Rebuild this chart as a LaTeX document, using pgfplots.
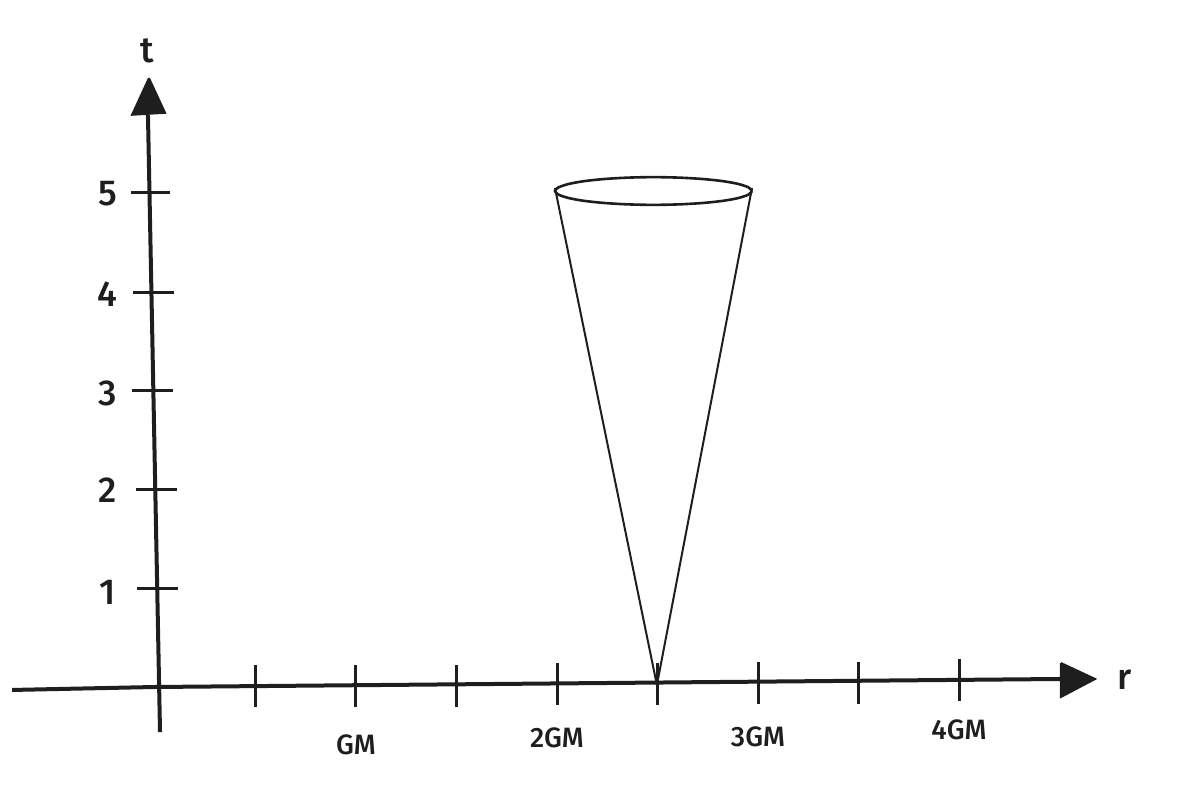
\documentclass[border=0pt]{standalone}
\usepackage{pgfplots}
\pgfplotsset{compat=1.18}
\usepackage{fontspec}
\setmainfont{Fira Sans}[BoldFont={Fira Sans Medium}]
\definecolor{ink}{HTML}{1E1E1E}
\begin{document}
\begin{tikzpicture}
\begin{axis}[scale only axis, width=593.5pt, height=392.5pt,
  xmin=-0.7711, xmax=5.1343, ymin=-0.9899, ymax=6.9394,
  hide axis, clip=false]
\path (rel axis cs:0,0) rectangle (rel axis cs:1,1);
% axes
\addplot[ink, line width=2pt] coordinates {(0.025,-0.455) (-0.035,5.78)};
\addplot[ink, line width=2pt] coordinates {(-0.711,-0.030) (0,0) (4.512,0.081)};
\addplot[ink, fill=ink, draw=ink, line width=1pt] coordinates {(-0.030,6.15) (-0.114,5.78) (0.050,5.80) (-0.030,6.15)};
\addplot[ink, fill=ink, draw=ink, line width=1pt] coordinates {(4.507,0.242) (4.507,-0.101) (4.677,0.081) (4.507,0.242)};
% y ticks
\addplot[ink, line width=1.5pt, unbounded coords=jump] table {
x y
-0.119 4.99
0.075 4.99
nan nan
-0.109 3.98
0.095 3.98
nan nan
-0.114 2.99
0.090 2.99
nan nan
-0.095 1.99
0.109 1.99
nan nan
-0.090 0.99
0.114 0.99
};
% x ticks
\addplot[ink, line width=1.5pt, unbounded coords=jump] table {
x y
0.5 0.22
0.5 -0.20
nan nan
1.0 0.22
1.0 -0.20
nan nan
1.5 0.22
1.5 -0.20
nan nan
2.0 0.24
2.0 -0.18
nan nan
2.5 0.24
2.5 -0.18
nan nan
3.0 0.25
3.0 -0.17
nan nan
3.5 0.25
3.5 -0.17
nan nan
4.0 0.28
4.0 -0.14
};
% cone
\addplot[ink, line width=1pt] coordinates {(1.99,5.04) (2.497,0.02) (2.97,5.04)};
\addplot[ink, line width=1.3pt, smooth] coordinates {
(2.970,5.010) (2.953,5.046) (2.904,5.080) (2.827,5.109) (2.725,5.131) (2.607,5.145)
(2.480,5.150) (2.353,5.145) (2.235,5.131) (2.133,5.109) (2.056,5.080) (2.007,5.046)
(1.990,5.010) (2.007,4.974) (2.056,4.940) (2.133,4.911) (2.235,4.889) (2.353,4.875)
(2.480,4.870) (2.607,4.875) (2.725,4.889) (2.827,4.911) (2.904,4.940) (2.953,4.974)
(2.970,5.010)};
% labels
\node[ink, font=\bfseries\fontsize{18}{20}\selectfont] at (axis cs:-0.04,6.43) {t};
\node[ink, font=\bfseries\fontsize{18}{20}\selectfont] at (axis cs:4.826,0.07) {r};
\node[ink, font=\bfseries\fontsize{18}{20}\selectfont] at (axis cs:-0.235,4.98) {5};
\node[ink, font=\bfseries\fontsize{18}{20}\selectfont] at (axis cs:-0.235,3.97) {4};
\node[ink, font=\bfseries\fontsize{18}{20}\selectfont] at (axis cs:-0.235,2.97) {3};
\node[ink, font=\bfseries\fontsize{18}{20}\selectfont] at (axis cs:-0.235,1.99) {2};
\node[ink, font=\bfseries\fontsize{18}{20}\selectfont] at (axis cs:-0.235,0.96) {1};
\node[ink, font=\bfseries\fontsize{14}{16}\selectfont] at (axis cs:1,-0.586) {GM};
\node[ink, font=\bfseries\fontsize{14}{16}\selectfont] at (axis cs:2,-0.515) {2GM};
\node[ink, font=\bfseries\fontsize{14}{16}\selectfont] at (axis cs:3,-0.505) {3GM};
\node[ink, font=\bfseries\fontsize{14}{16}\selectfont] at (axis cs:4,-0.434) {4GM};
\end{axis}
\end{tikzpicture}
\end{document}
